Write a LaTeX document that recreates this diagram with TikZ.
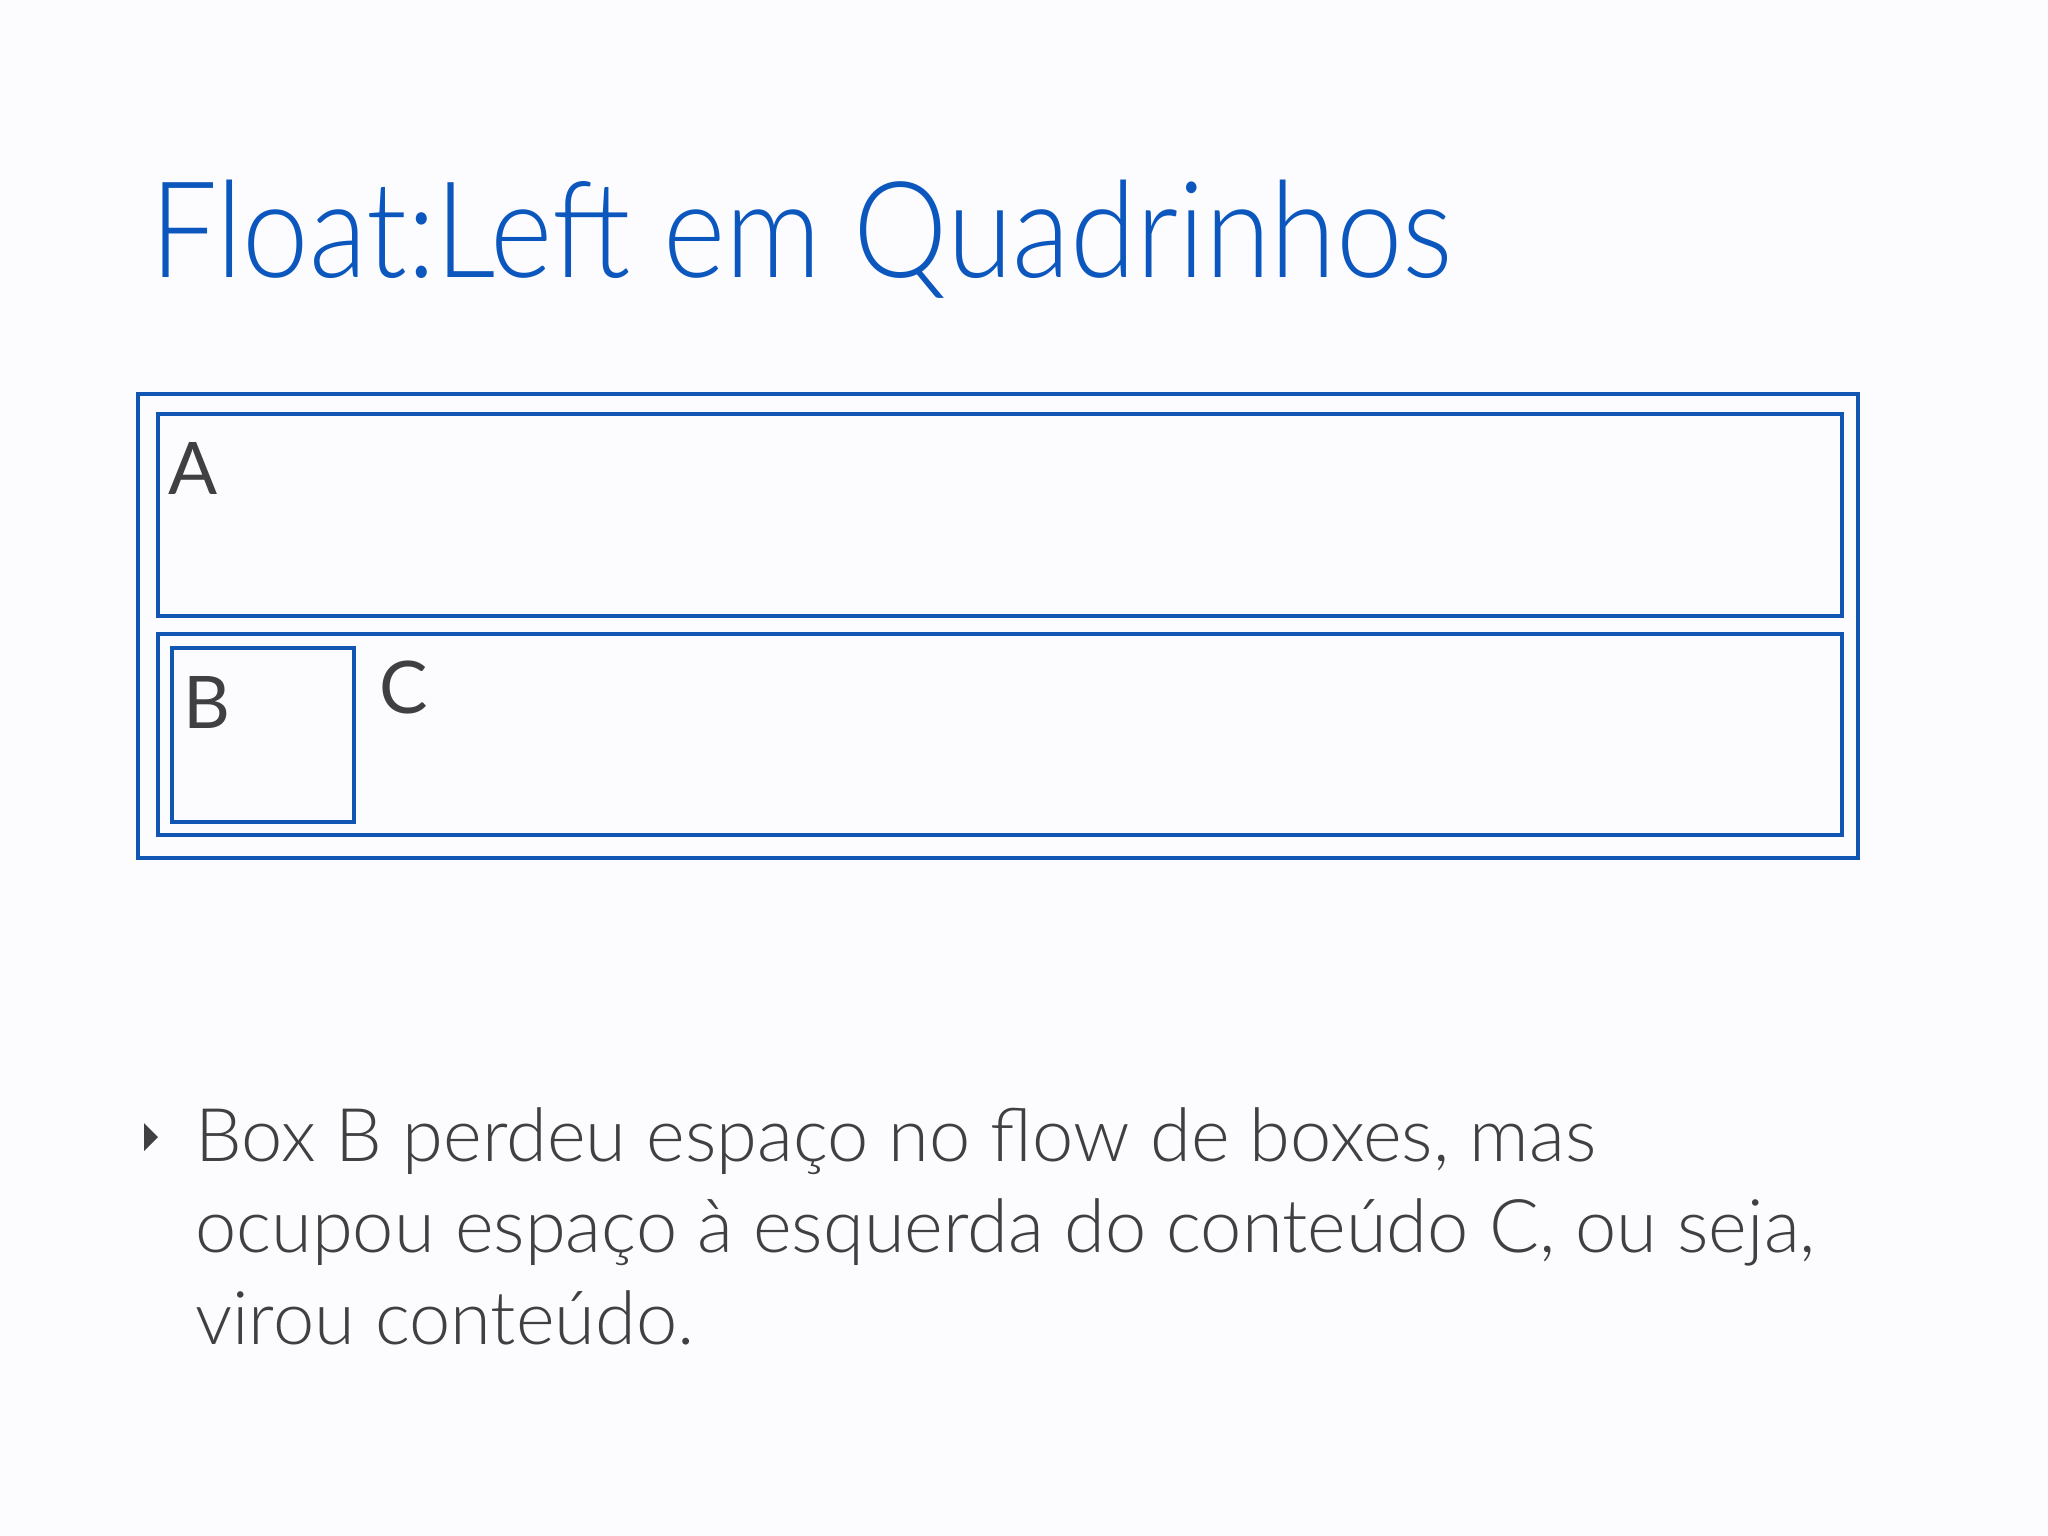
\documentclass[tikz,border=0pt]{standalone}
\usepackage{fontspec}
\setmainfont{Lato Light}
\newfontfamily\labelfont{Lato}
\definecolor{titleblue}{RGB}{12,87,189}
\definecolor{boxblue}{RGB}{18,86,180}
\definecolor{txtgray}{RGB}{64,64,66}
\begin{document}
\begin{tikzpicture}[x=1pt,y=-1pt,
  frame/.style={draw=boxblue,line width=3.5pt,rectangle,inner sep=0pt},
  letter/.style={anchor=base west,inner sep=0pt,text=txtgray,font=\labelfont\fontsize{72.6}{72.6}\selectfont},
  body/.style={anchor=base west,inner sep=0pt,text=txtgray,font=\fontsize{74}{74}\selectfont}]
\useasboundingbox (0,0) rectangle (2048,1536);
\fill[white!99!blue] (0,0) rectangle (2048,1536);
\node[anchor=base west,inner sep=0pt,text=titleblue,font=\fontsize{134}{134}\selectfont] (title) at (150,277) {\scalebox{0.89}[1]{Float:Left em Quadrinhos}};
\node[frame,minimum width=1720pt,minimum height=464pt] (outer) at (998,626) {};
\node[frame,minimum width=1684pt,minimum height=202pt] (boxA) at (1000,515) {};
\node[frame,minimum width=1684pt,minimum height=201pt] (boxC) at (1000,734.5) {};
\node[frame,minimum width=182pt,minimum height=174pt] (boxB) at (263,735) {};
\node[letter] (labA) at (168,494) {A};
\node[letter] (labB) at (183,728) {B};
\node[letter] (labC) at (379,713) {C};
\fill[txtgray] (144,1123) -- (158,1137) -- (144,1151) -- cycle;
\node[body] (l1) at (195,1161) {Box B perdeu espaço no flow de boxes, mas};
\node[body] (l2) at (195,1252) {ocupou espaço à esquerda do conteúdo C, ou seja,};
\node[body] (l3) at (195,1344) {virou conteúdo.};
\end{tikzpicture}
\end{document}
